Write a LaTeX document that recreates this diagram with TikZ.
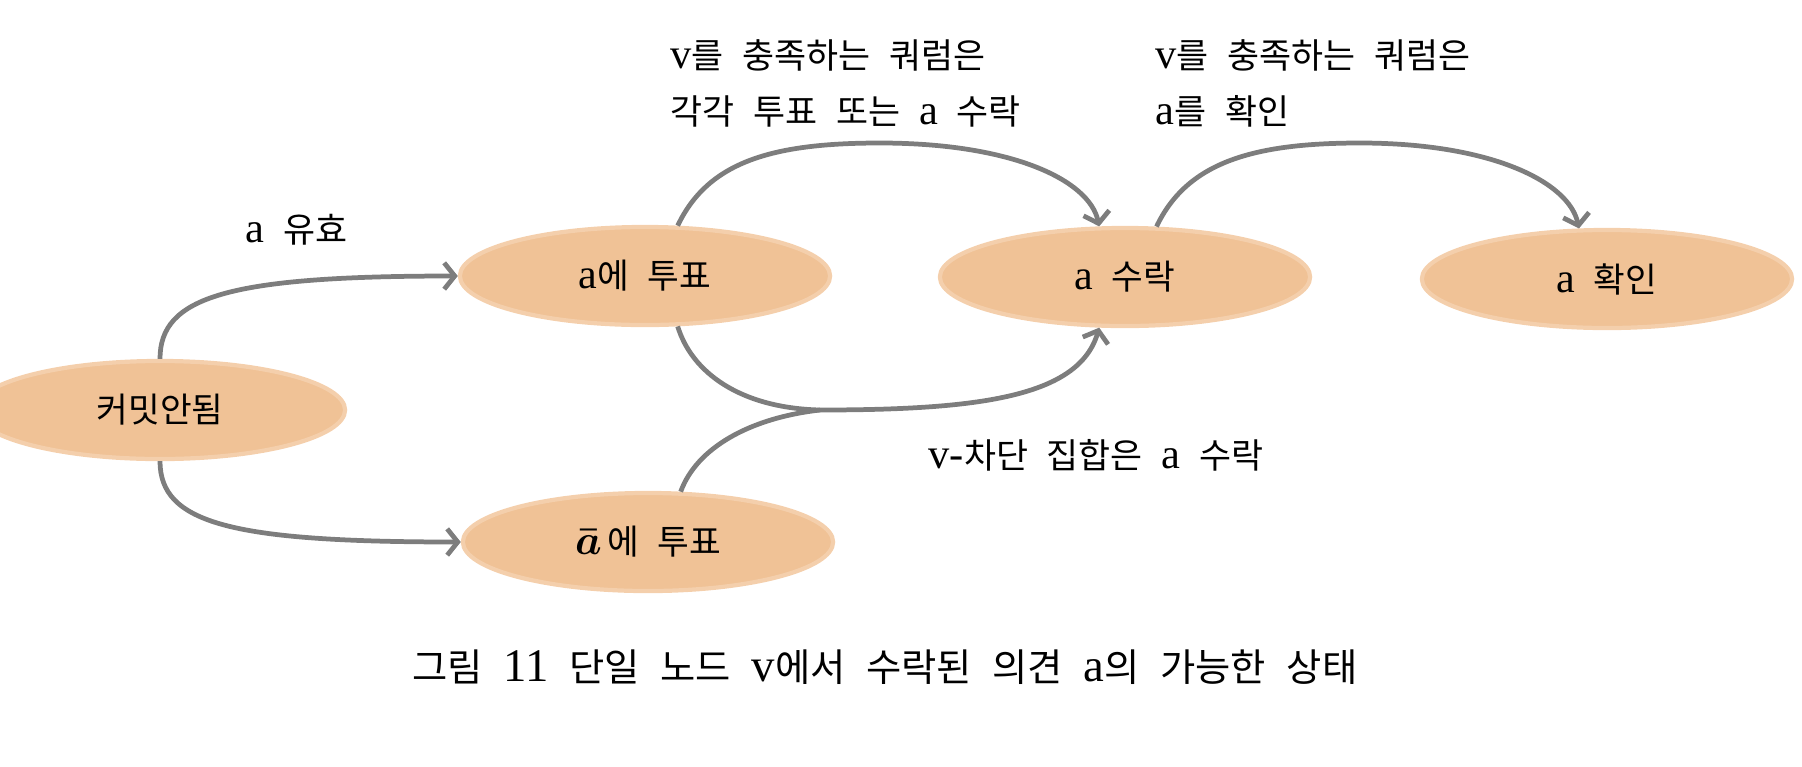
\documentclass[tikz,border=0pt]{standalone}
\usepackage{amsmath}
\usepackage{fontspec}
\setmainfont{Noto Sans CJK KR}[WordSpace=2.4]
\newfontfamily\lat{Liberation Serif}[Scale=1.22]
\usetikzlibrary{shapes.geometric,arrows.meta}

\definecolor{statefill}{RGB}{240,194,150}
\definecolor{stateedge}{RGB}{244,207,172}
\definecolor{flowgray}{RGB}{125,125,125}

\begin{document}
\begin{tikzpicture}[x=0.01cm,y=-0.01cm,
  state/.style={ellipse,fill=statefill,draw=stateedge,line width=1.2pt,
    minimum width=3.7cm,minimum height=0.98cm,inner sep=0pt,
    font=\fontsize{9.8}{11}\selectfont},
  flowline/.style={draw=flowgray,line width=1.35pt},
  flow/.style={flowline,-{Straight Barb[length=3pt,width=7.5pt]}},
  lbl/.style={anchor=west,inner sep=0pt,font=\fontsize{9.9}{11}\selectfont}]

\useasboundingbox (0,0) rectangle (1802,766);

\node[state] (uncommit) at (160,410) {커밋안됨};
\node[state] (vote) at (645,276) {{\lat a}에 투표};
\node[state] (votebar) at (648,542) {{\fontsize{13}{14}\selectfont$\boldsymbol{\bar{a}}$}\kern1.5pt 에 투표};
\node[state] (accept) at (1125,277) {{\lat a} 수락};
\node[state] (confirm) at (1607,279) {{\lat a} 확인};

\coordinate (arcA) at (880,143);
\coordinate (arcB) at (1360,143);
\coordinate (merge) at (820,410);

\draw[flow] (uncommit.north) .. controls +(0,-62) and +(-230,0) .. (vote.west);
\draw[flow] (uncommit.south) .. controls +(0,62) and +(-230,0) .. (votebar.west);

\draw[flow] (vote.57) .. controls +(30,-63) and +(-110,0) .. (arcA)
  .. controls +(130,0) and +(-10,-47) .. (accept.117);
\draw[flow] (accept.58) .. controls +(30,-63) and +(-110,0) .. (arcB)
  .. controls +(130,0) and +(-10,-47) .. (confirm.119);

\draw[flow] (vote.-57) .. controls +(14,46) and +(-80,-2) .. (merge)
  .. controls +(160,0) and +(-20,69) .. (accept.-117);
\draw[flowline] (votebar.57) .. controls +(16,-44) and +(-70,8) .. (merge);

\node[lbl] (lvalid) at (245,230) {{\lat a} 유효};
\node[lbl] (lquorumA) at (670,55) {{\lat v}를 충족하는 쿼럼은};
\node[lbl] (lquorumB) at (670,111) {각각 투표 또는 {\lat a} 수락};
\node[lbl] (lquorumC) at (1155,55) {{\lat v}를 충족하는 쿼럼은};
\node[lbl] (lconfirm) at (1155,111) {{\lat a}를 확인};
\node[lbl] (lblock) at (928,455) {{\lat v-}차단 집합은 {\lat a} 수락};

\node[font=\fontsize{10.9}{13}\selectfont] (caption) at (885,667)
  {그림 {\lat 11} 단일 노드 {\lat v}에서 수락된 의견 {\lat a}의 가능한 상태};

\end{tikzpicture}
\end{document}
